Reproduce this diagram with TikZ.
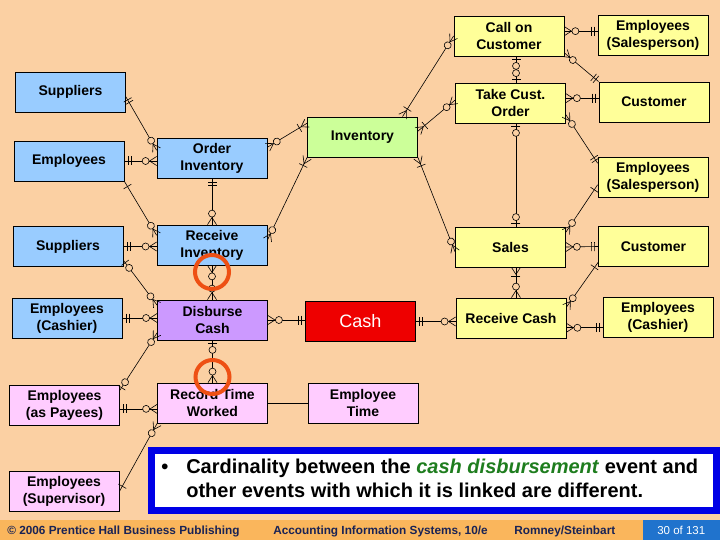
\documentclass[tikz,border=0pt]{standalone}
\usepackage{fontspec}
\setmainfont{Liberation Sans}
\usetikzlibrary{decorations.markings}
\definecolor{bg}{RGB}{251,208,163}
\definecolor{purchblue}{RGB}{153,204,255}
\definecolor{salesyellow}{RGB}{255,255,153}
\definecolor{paypink}{RGB}{255,204,255}
\definecolor{cashpurple}{RGB}{204,153,255}
\definecolor{invgreen}{RGB}{204,255,153}
\definecolor{cashred}{RGB}{238,0,0}
\definecolor{hilite}{RGB}{238,80,20}
\definecolor{frameblue}{RGB}{0,0,230}
\definecolor{termgreen}{RGB}{30,125,30}
\definecolor{footorange}{RGB}{250,182,92}
\definecolor{footblue}{RGB}{32,115,205}
\definecolor{footink}{RGB}{25,35,85}
\newcommand\erCrow{\draw (0,4.5) -- (7,0) -- (0,-4.5);}
\newcommand\erRing[1]{\draw[fill=bg] (#1,0) circle (3.5);}
\newcommand\erBar[1]{\draw (#1,-4.5) -- (#1,4.5);}
\newcommand\zeroMany{\erCrow\erRing{11}}
\newcommand\oneMany{\erCrow\erBar{9}}
\newcommand\zeroOne{\erBar{3}\erRing{9.5}}
\newcommand\oneOne{\erBar{3.5}\erBar{6.5}}
\newcommand\justOne{\erBar{6}}
\tikzset{
  entity/.style={draw, line width=0.8pt, minimum width=110pt, minimum height=40pt,
    inner sep=1pt, align=center, font=\bfseries\fontsize{14}{17}\selectfont},
  endA/.style={postaction={decorate,decoration={markings,
    mark=at position 0 with {#1}}}},
  endB/.style={postaction={decorate,decoration={markings,
    mark=at position 1 with {\begin{scope}[xscale=-1]#1\end{scope}}}}},
  hilite ring/.style={draw=hilite, line width=4pt},
  foot/.style={anchor=base west, inner sep=0pt, text=footink,
    font=\bfseries\fontsize{11.8}{14}\selectfont},
  remark/.style={anchor=base west, inner sep=0pt,
    font=\bfseries\fontsize{20}{24}\selectfont},
}

\begin{document}
\begin{tikzpicture}[x=1pt,y=-1pt,line width=0.6pt]
  \useasboundingbox (0,0) rectangle (720,540);
  \fill[bg] (0,0) rectangle (720,540);

  \node[entity, fill=purchblue] (supA) at (70.5,92) {Suppliers};
  \node[entity, fill=purchblue] (empA) at (69,161) {Employees};
  \node[entity, fill=purchblue] (ordInv) at (212,158) {Order\\Inventory};
  \node[entity, fill=purchblue] (supB) at (68,246.5) {Suppliers};
  \node[entity, fill=purchblue] (recInv) at (212,245) {Receive\\Inventory};
  \node[entity, fill=purchblue] (cashierA) at (67,318) {Employees\\(Cashier)};
  \node[entity, fill=cashpurple] (disburse) at (212.5,320) {Disburse\\Cash};
  \node[entity, fill=paypink] (payees) at (64.5,405) {Employees\\(as Payees)};
  \node[entity, fill=paypink] (recTime) at (212.5,403) {Record Time\\Worked};
  \node[entity, fill=paypink] (empTime) at (363,403) {Employee\\Time};
  \node[entity, fill=paypink] (supervisor) at (64,491.5) {Employees\\(Supervisor)};
  \node[entity, fill=invgreen] (inventory) at (362.5,137) {Inventory};
  \node[entity, fill=cashred, text=white, font=\fontsize{18}{20}\selectfont] (cash) at (360.5,321.5) {Cash};
  \node[entity, fill=salesyellow] (callCust) at (509,36) {Call on\\Customer};
  \node[entity, fill=salesyellow] (takeOrder) at (510.5,103) {Take Cust.\\Order};
  \node[entity, fill=salesyellow] (sales) at (510.5,247) {Sales};
  \node[entity, fill=salesyellow] (recCash) at (511,318) {Receive Cash};
  \node[entity, fill=salesyellow] (salesA) at (653,35) {Employees\\(Salesperson)};
  \node[entity, fill=salesyellow] (custA) at (654,102) {Customer};
  \node[entity, fill=salesyellow] (salesB) at (653,177) {Employees\\(Salesperson)};
  \node[entity, fill=salesyellow] (custB) at (653.5,246.5) {Customer};
  \node[entity, fill=salesyellow] (cashierB) at (658,317) {Employees\\(Cashier)};

  \draw[endA=\oneOne, endB=\zeroMany] (supA.-5) -- (ordInv.172);
  \draw[endA=\oneOne, endB=\zeroMany] (empA.east) -- (ordInv.west |- empA.east);
  \draw[endA=\zeroMany, endB=\oneMany] (ordInv.11) -- (inventory.166);
  \draw[endA=\oneOne, endB=\zeroMany] (ordInv.south) -- (ordInv.south |- recInv.north);
  \draw[endA=\justOne, endB=\zeroMany] (empA.south east) -- (recInv.170);
  \draw[endA=\oneOne, endB=\zeroMany] (supB.east) -- (recInv.west |- supB.east);
  \draw[endA=\oneMany, endB=\zeroMany] (inventory.south west) -- (recInv.5);
  \draw[endA=\zeroMany, endB=\zeroMany] (recInv.south) -- (recInv.south |- disburse.north);
  \draw[endA=\zeroOne, endB=\zeroMany] (supB.-14) -- (disburse.165);
  \draw[endA=\oneOne, endB=\zeroMany] (cashierA.east) -- (disburse.west |- cashierA.east);
  \draw[endA=\zeroOne, endB=\zeroMany] (payees.15) -- (disburse.193);
  \draw[endA=\zeroMany, endB=\oneOne] (disburse.east) -- (cash.west |- disburse.east);
  \draw[endA=\zeroOne, endB=\zeroMany] (disburse.south) -- (disburse.south |- recTime.north);
  \draw[endA=\oneOne, endB=\zeroMany] (payees.-4) -- (recTime.west |- payees.-4);
  \draw (recTime.east) -- (empTime.west);
  \draw[endA=\justOne, endB=\zeroMany] (supervisor.east) -- (recTime.south west);

  \draw[endA=\zeroMany, endB=\oneOne] (callCust.5) -- (salesA.west |- callCust.5);
  \draw[endA=\zeroMany, endB=\oneOne] (callCust.-17) -- (custA.north west);
  \draw[endA=\zeroOne, endB=\zeroOne] (callCust.-71) -- (callCust.-71 |- takeOrder.north);
  \draw[endA=\oneMany, endB=\zeroMany] (inventory.27) -- (callCust.west);
  \draw[endA=\oneMany, endB=\zeroMany] (inventory.6) -- (takeOrder.177);
  \draw[endA=\zeroMany, endB=\oneOne] (takeOrder.5) -- (custA.west |- takeOrder.5);
  \draw[endA=\zeroMany, endB=\oneOne] (takeOrder.-12) -- (salesB.166);
  \draw[endA=\zeroOne, endB=\zeroOne] (takeOrder.-75) -- (takeOrder.-75 |- sales.north);
  \draw[endA=\oneMany, endB=\zeroMany] (inventory.south east) -- (sales.185);
  \draw[endA=\zeroMany, endB=\justOne] (sales.15) -- (salesB.188);
  \draw[endA=\zeroMany, endB=\oneOne] (sales.east) -- (custB.west);
  \draw[endA=\oneMany, endB=\zeroMany] (sales.-75) -- (sales.-75 |- recCash.north);
  \draw[endA=\zeroMany, endB=\justOne] (recCash.11) -- (custB.196);
  \draw[endA=\zeroMany, endB=\oneOne] (recCash.-10) -- (cashierB.west |- recCash.-10);
  \draw[endA=\oneOne, endB=\zeroMany] (cash.east) -- (recCash.west |- cash.east);

  \draw[hilite ring] (212,272) circle (17);
  \draw[hilite ring] (212.5,377) circle (17);

  \draw[frameblue, line width=7pt, fill=white] (151.5,450.5) rectangle (716.5,510.5);
  \node[remark] (bullet) at (161,473) {•};
  \node[remark] (lineA) at (186,473) {Cardinality between the \textcolor{termgreen}{\textit{cash disbursement}} event and};
  \node[remark] (lineB) at (186,497) {other events with which it is linked are different.};

  \fill[footorange] (0,520) rectangle (720,540);
  \fill[footblue] (643,520) rectangle (720,540);
  \node[foot] (pub) at (7,534) {© 2006 Prentice Hall Business Publishing};
  \node[foot] (book) at (273,534) {Accounting Information Systems, 10/e};
  \node[foot] (auth) at (514,534) {Romney/Steinbart};
  \node[foot, text=white, font=\fontsize{11.5}{14}\selectfont] (page) at (657,534) {30 of 131};
\end{tikzpicture}
\end{document}
